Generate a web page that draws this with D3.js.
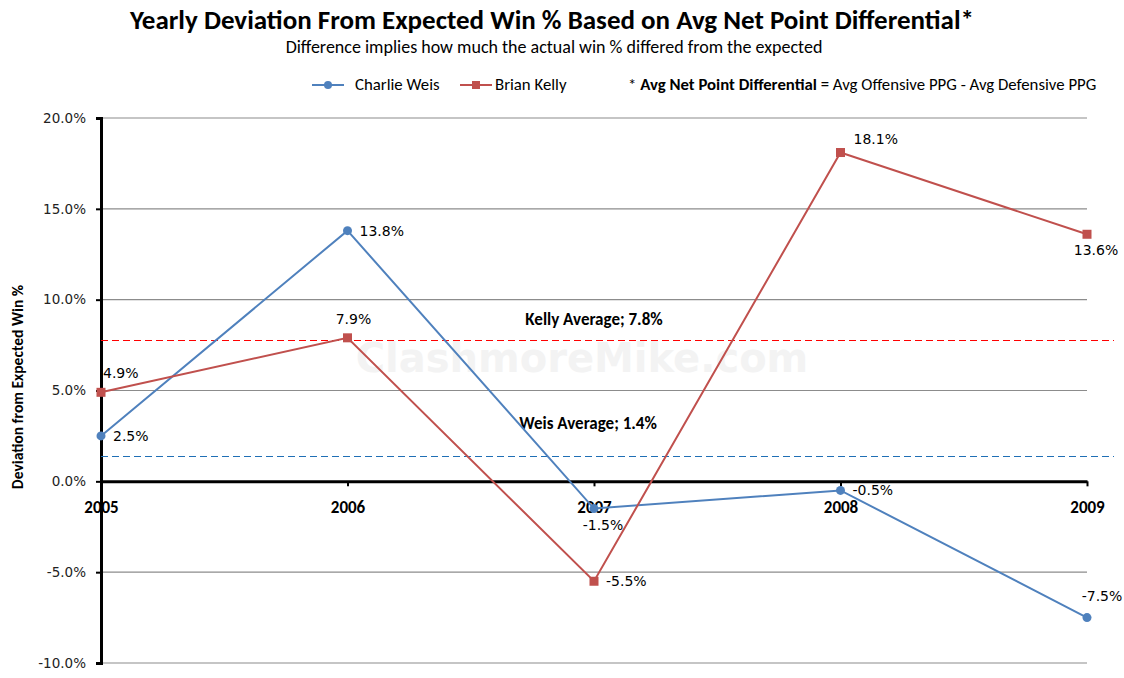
<!DOCTYPE html>
<html><head><meta charset="utf-8">
<script src="https://cdn.jsdelivr.net/npm/d3@7"></script>
<style>body{margin:0;background:#fff}svg{display:block}</style>
</head><body>
<svg id="c" width="1124" height="678"></svg>
<script>
const years = ["2005","2006","2007","2008","2009"];
const weis = [2.5, 13.8, -1.5, -0.5, -7.5];
const kelly = [4.9, 7.9, -5.5, 18.1, 13.6];
const weisLabelPos = ["right","right","below","right","aboveRight"];
const kellyLabelPos = ["above","above","right","aboveRight","below"];
const weisAvg = 1.4, kellyAvg = 7.8;
const yTicks = [20, 15, 10, 5, 0, -5, -10];

const svg = d3.select("#c");
const x = d3.scalePoint().domain(years).range([101, 1087]);
const y = d3.scaleLinear().domain([-10, 20]).range([663, 118]);
const cW = "#4f81bd", cK = "#c0504d";
const calibri = "Carlito, Lato, 'Liberation Sans Narrow', sans-serif";
const tahoma = "'DejaVu Sans', Verdana, sans-serif";

// watermark
svg.append("text").attr("x", 582).attr("y", 372).attr("text-anchor","middle")
  .attr("font-family","'DejaVu Sans', sans-serif").attr("font-weight","bold")
  .attr("font-size", 40).attr("fill","#f3f3f3").text("ClashmoreMike.com");

// grid
svg.append("g").selectAll("line").data(yTicks.filter(d=>d!==0)).join("line")
  .attr("x1", 101).attr("x2", 1087).attr("y1", d=>y(d)).attr("y2", d=>y(d))
  .attr("stroke", "#8c8c8c").attr("stroke-width", 1.2);

// y axis
const ya = svg.append("g").attr("transform","translate(101,0)")
  .call(d3.axisLeft(y).tickValues(yTicks).tickSize(5).tickFormat(d=>d.toFixed(1)+"%"));
ya.select(".domain").attr("stroke","#000").attr("stroke-width",3);
ya.selectAll(".tick line").attr("stroke","#000").attr("stroke-width",2);
ya.selectAll(".tick text").attr("font-family",tahoma).attr("font-size",13.5).attr("fill","#222").attr("x",-15);

// x axis at 0
const xa = svg.append("g").attr("transform",`translate(0,${y(0)})`)
  .call(d3.axisBottom(x).tickSize(5).tickSizeOuter(0));
xa.select(".domain").attr("stroke","#000").attr("stroke-width",3);
xa.selectAll(".tick line").attr("stroke","#000").attr("stroke-width",2);
xa.selectAll(".tick text").attr("font-family",calibri).attr("font-weight","bold")
  .attr("font-size",17).attr("fill","#000").attr("dy",0).attr("y",32);

// average lines
const ky = Math.round(y(kellyAvg)) + 0.5, wy = Math.round(y(weisAvg)) + 0.5;
svg.append("line").attr("x1",101).attr("x2",1114).attr("y1",ky).attr("y2",ky)
  .attr("stroke","#ff0000").attr("stroke-width",1).attr("stroke-dasharray","7,4");
svg.append("line").attr("x1",101).attr("x2",1114).attr("y1",wy).attr("y2",wy)
  .attr("stroke","#1f6fb5").attr("stroke-width",1).attr("stroke-dasharray","7,4");
svg.append("text").attr("x",594).attr("y",y(kellyAvg)-15).attr("text-anchor","middle")
  .attr("font-family",calibri).attr("font-weight","bold").attr("font-size",17).text("Kelly Average; "+kellyAvg.toFixed(1)+"%");
svg.append("text").attr("x",588).attr("y",y(weisAvg)-27).attr("text-anchor","middle")
  .attr("font-family",calibri).attr("font-weight","bold").attr("font-size",17).text("Weis Average; "+weisAvg.toFixed(1)+"%");

// lines
const line = d3.line().x((d,i)=>x(years[i])).y(d=>y(d));
svg.append("path").datum(weis).attr("d",line).attr("fill","none").attr("stroke",cW).attr("stroke-width",2);
svg.append("path").datum(kelly).attr("d",line).attr("fill","none").attr("stroke",cK).attr("stroke-width",2);
svg.append("g").selectAll("circle").data(weis).join("circle")
  .attr("cx",(d,i)=>x(years[i])).attr("cy",d=>y(d)).attr("r",4.5).attr("fill",cW);
svg.append("g").selectAll("rect").data(kelly).join("rect")
  .attr("x",(d,i)=>x(years[i])-4.5).attr("y",d=>y(d)-4.5).attr("width",9).attr("height",9).attr("fill",cK);

// data labels
function labels(vals, pos){
  svg.append("g").selectAll("text").data(vals).join("text")
    .attr("font-family",tahoma).attr("font-size",14).attr("fill","#000")
    .each(function(d,i){
      const px = x(years[i]), py = y(d), p = pos[i];
      const t = d3.select(this).text(d.toFixed(1)+"%");
      if(p==="right") t.attr("x",px+12).attr("y",py+5).attr("text-anchor","start");
      else if(p==="above") t.attr("x",px+(i===0?2:6)).attr("y",py-14).attr("text-anchor",i===0?"start":"middle");
      else if(p==="below") t.attr("x",px+9).attr("y",py+21).attr("text-anchor","middle");
      else if(p==="aboveRight") t.attr("x",px+(i===4?15:13)).attr("y",py-(i===4?17:9)).attr("text-anchor",i===4?"middle":"start");
    });
}
labels(weis, weisLabelPos);
labels(kelly, kellyLabelPos);

// titles
svg.append("text").attr("x",552).attr("y",29).attr("text-anchor","middle")
  .attr("font-family",calibri).attr("font-weight","bold").attr("font-size",27).text("Yearly Deviation From Expected Win % Based on Avg Net Point Differential*");
svg.append("text").attr("x",554).attr("y",53).attr("text-anchor","middle")
  .attr("font-family",calibri).attr("font-size",18).text("Difference implies how much the actual win % differed from the expected");

// y axis title
svg.append("text").attr("transform","translate(23,387) rotate(-90)").attr("text-anchor","middle")
  .attr("font-family",calibri).attr("font-weight","bold").attr("font-size",15.6).text("Deviation from Expected Win %");

// legend
const lg = svg.append("g");
lg.append("line").attr("x1",312).attr("x2",344).attr("y1",85).attr("y2",85).attr("stroke",cW).attr("stroke-width",2);
lg.append("circle").attr("cx",328).attr("cy",85).attr("r",4).attr("fill",cW);
lg.append("text").attr("x",355).attr("y",90).attr("font-family",calibri).attr("font-size",16.8).text("Charlie Weis");
lg.append("line").attr("x1",460).attr("x2",492).attr("y1",85).attr("y2",85).attr("stroke",cK).attr("stroke-width",2);
lg.append("rect").attr("x",472).attr("y",81).attr("width",8).attr("height",8).attr("fill",cK);
lg.append("text").attr("x",495).attr("y",90).attr("font-family",calibri).attr("font-size",16.8).text("Brian Kelly");
const ft = lg.append("text").attr("x",628).attr("y",90).attr("font-family",calibri).attr("font-size",16.8);
ft.append("tspan").text("* ");
ft.append("tspan").attr("font-weight","bold").text("Avg Net Point Differential");
ft.append("tspan").text(" = Avg Offensive PPG - Avg Defensive PPG");
</script>
</body></html>
